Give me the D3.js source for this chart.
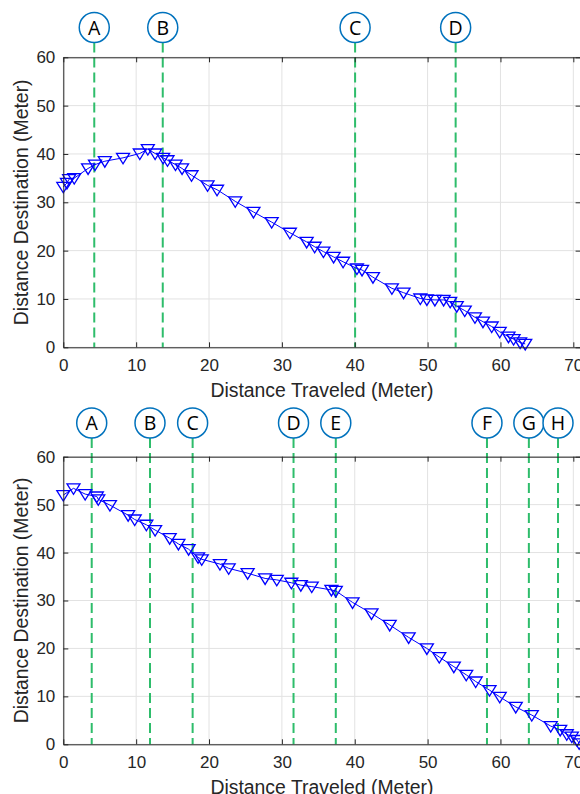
<!DOCTYPE html>
<html>
<head>
<meta charset="utf-8">
<script src="https://cdn.jsdelivr.net/npm/d3@7"></script>
<style>
    body { margin: 0; background: #fff; }
    svg { display: block; }
</style>
</head>
<body>
<svg id="chart" width="580" height="794"></svg>
<script>
// --- 1. Data ---
const topDist = [0, 0.5, 0.8, 1.5, 3.4, 4.35, 5.7, 8.2, 10.5, 11.6, 12.6, 13.7, 14.3, 15.4, 16.3, 17.6, 19.8, 21.1,
    23.6, 26.1, 28.6, 31.1, 33.4, 34.5, 35.7, 37.1, 38.4, 40.3, 41.0, 42.5, 45.1, 46.7, 49.0, 49.9, 51.0, 52.2,
    53.1, 54.0, 55.1, 56.5, 57.6, 58.8, 59.9, 61.1, 61.8, 62.7, 63.4];
const topDest = [33.2, 34.0, 34.8, 35.0, 37.0, 37.8, 38.5, 39.2, 40.1, 41.0, 40.1, 39.2, 38.7, 37.8, 37.0, 35.6, 33.5, 32.6,
    30.2, 28.0, 25.9, 23.7, 21.8, 20.8, 19.8, 18.7, 17.7, 16.3, 16.0, 14.5, 12.2, 11.3, 10.1, 9.9, 9.8, 9.8,
    9.4, 8.5, 7.6, 6.2, 5.3, 4.3, 3.2, 2.2, 1.7, 1.0, 0.7];
const topEventX = [4.25, 13.65, 40.05, 53.85];
const topEventLabels = ["A", "B", "C", "D"];

const botDist = [0, 1.4, 3.0, 4.6, 4.8, 6.4, 8.9, 9.8, 11.4, 12.6, 14.6, 15.8, 17.2, 18.5, 19.0, 21.5, 22.7, 25.3,
    27.7, 29.3, 31.3, 32.6, 34.1, 36.8, 37.4, 39.7, 42.3, 44.8, 47.4, 49.9, 51.6, 53.6, 55.3, 56.6, 58.5, 59.9,
    62.1, 64.3, 66.9, 68.2, 69.1, 69.8, 70.5, 70.8];
const botDest = [52.0, 53.4, 52.2, 51.7, 51.1, 49.9, 47.8, 46.9, 45.8, 44.7, 43.0, 41.8, 40.7, 39.0, 38.6, 37.6, 36.7, 35.7,
    34.6, 34.3, 33.7, 33.2, 32.9, 32.2, 32.0, 29.6, 27.3, 24.9, 22.3, 20.0, 18.2, 16.2, 14.5, 13.1, 11.3, 9.9,
    7.8, 6.1, 3.8, 3.0, 2.1, 1.6, 0.9, 0.2];
const botEventX = [3.9, 11.9, 17.75, 31.6, 37.4, 58.15, 63.9, 67.9];
const botEventLabels = ["A", "B", "C", "D", "E", "F", "G", "H"];

const xTicks = [0, 10, 20, 30, 40, 50, 60, 70];
const yTicks = [0, 10, 20, 30, 40, 50, 60];
const xLabel = "Distance Traveled (Meter)";
const yLabel = "Distance Destination (Meter)";

// --- 2. Setup ---
const svg = d3.select("#chart");
const axisColor = "#262626";
const gridColor = "#e2e2e2";
const greenLine = "#2ebd6b";
const circleColor = "#0072bd";
const markerColor = "#0000ff";
const font = "'Liberation Sans', Arial, sans-serif";

const x = d3.scaleLinear().domain([0, 71]).range([63.3, 580.6]);

// --- 3. Draw one panel ---
function drawPanel(dist, dest, eventX, eventLabels, top, bottom, circleY) {
    const y = d3.scaleLinear().domain([0, 60]).range([bottom, top]);
    const g = svg.append("g");
    const left = x.range()[0], right = x.range()[1];

    // grid
    g.selectAll(".gx").data(xTicks).join("line")
        .attr("x1", d => x(d)).attr("x2", d => x(d))
        .attr("y1", top).attr("y2", bottom)
        .attr("stroke", gridColor).attr("stroke-width", 1);
    g.selectAll(".gy").data(yTicks).join("line")
        .attr("x1", left).attr("x2", right)
        .attr("y1", d => y(d)).attr("y2", d => y(d))
        .attr("stroke", gridColor).attr("stroke-width", 1);

    // event markers (dashed lines + circled letters)
    const ev = g.selectAll(".event").data(eventX).join("g");
    ev.append("line")
        .attr("x1", d => x(d)).attr("x2", d => x(d))
        .attr("y1", circleY + 15).attr("y2", bottom)
        .attr("stroke", greenLine).attr("stroke-width", 2)
        .attr("stroke-dasharray", "10,5");
    ev.append("circle")
        .attr("cx", d => x(d)).attr("cy", circleY).attr("r", 15)
        .attr("fill", "#fff").attr("stroke", circleColor).attr("stroke-width", 1.5);
    ev.append("text")
        .attr("x", d => x(d)).attr("y", circleY + 7)
        .attr("text-anchor", "middle")
        .attr("font-family", "'Open Sans', 'Noto Sans', sans-serif")
        .attr("font-size", "19.5px")
        .attr("fill", "#000")
        .text((d, i) => eventLabels[i]);

    // data line + triangle markers
    const pts = dist.map((d, i) => [d, dest[i]]);
    g.append("path")
        .datum(pts)
        .attr("fill", "none")
        .attr("stroke", markerColor)
        .attr("stroke-width", 1)
        .attr("d", d3.line().x(d => x(d[0])).y(d => y(d[1])));
    g.selectAll(".mk").data(pts).join("path")
        .attr("transform", d => `translate(${x(d[0])},${y(d[1])})`)
        .attr("d", "M-6.5,-4.5L6.5,-4.5L0,6Z")
        .attr("fill", "none")
        .attr("stroke", markerColor)
        .attr("stroke-width", 1.3);

    // axes box
    const xa = g.append("g").attr("transform", `translate(0,${bottom})`)
        .call(d3.axisBottom(x).tickValues(xTicks).tickSize(-5).tickPadding(8).tickSizeOuter(0));
    const xt = g.append("g").attr("transform", `translate(0,${top})`)
        .call(d3.axisTop(x).tickValues(xTicks).tickSize(-5).tickFormat("").tickSizeOuter(0));
    const ya = g.append("g").attr("transform", `translate(${left},0)`)
        .call(d3.axisLeft(y).tickValues(yTicks).tickSize(-5).tickPadding(8).tickSizeOuter(0));
    const yr = g.append("g").attr("transform", `translate(${right},0)`)
        .call(d3.axisRight(y).tickValues(yTicks).tickSize(-5).tickFormat("").tickSizeOuter(0));

    [xa, xt, ya, yr].forEach(a => {
        a.select(".domain").attr("stroke", axisColor).attr("stroke-width", 1);
        a.selectAll(".tick line").attr("stroke", axisColor);
        a.selectAll("text")
            .attr("fill", axisColor)
            .attr("font-family", font)
            .attr("font-size", "17px");
    });
    xa.selectAll("text").attr("dy", "0.95em");

    // axis titles
    g.append("text")
        .attr("x", (left + right) / 2)
        .attr("y", bottom + 50)
        .attr("text-anchor", "middle")
        .attr("font-family", font)
        .attr("font-size", "19.4px")
        .attr("fill", axisColor)
        .text(xLabel);
    g.append("text")
        .attr("transform", `translate(28,${(top + bottom) / 2}) rotate(-90)`)
        .attr("text-anchor", "middle")
        .attr("font-family", font)
        .attr("font-size", "19.4px")
        .attr("fill", axisColor)
        .text(yLabel);
}

// --- 4. Draw both panels ---
drawPanel(topDist, topDest, topEventX, topEventLabels, 57.3, 347.3, 27.5);
drawPanel(botDist, botDest, botEventX, botEventLabels, 456.7, 744.3, 423);
</script>
</body>
</html>
